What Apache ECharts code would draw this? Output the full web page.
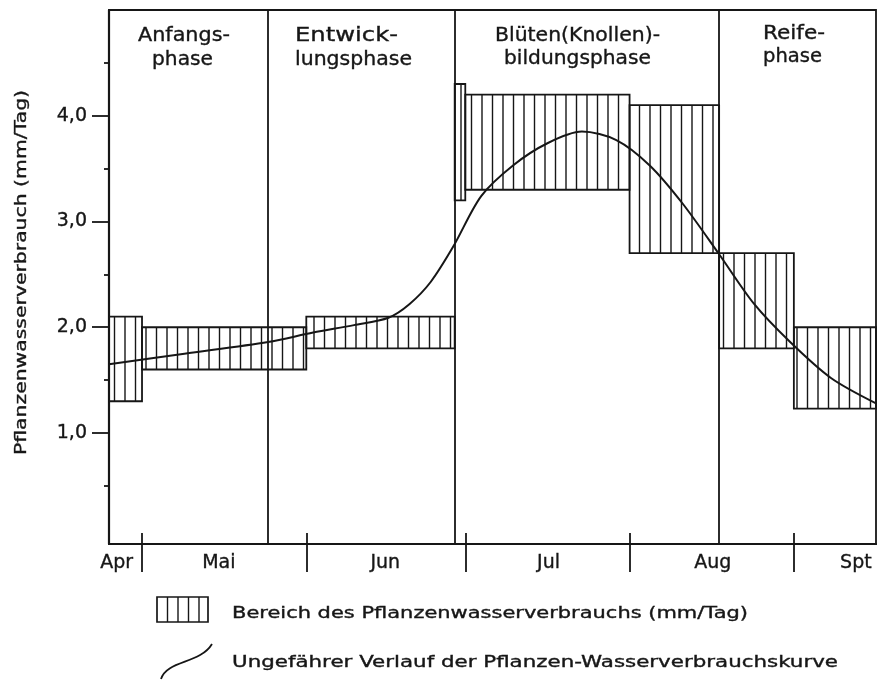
<!DOCTYPE html>
<html>
<head>
<meta charset="utf-8">
<script src="https://cdn.jsdelivr.net/npm/echarts@6/dist/echarts.min.js"></script>
<style>
html,body{margin:0;padding:0;background:#fff;}
#chart{width:878px;height:682px;}
</style>
</head>
<body>
<div id="chart"></div>
<script>
// ---------- DATA (x in days counted from 1 May) ----------
const monthBoundaries = [0, 31, 61, 92, 123];
const monthLabelPos   = [-4.8, 14.5, 45.9, 76.7, 107.7, 134.7];
const monthNames      = ['Apr', 'Mai', 'Jun', 'Jul', 'Aug', 'Spt'];
const yMajorTicks     = [1, 2, 3, 4];
const yMinorTicks     = [0.5, 1.5, 2.5, 3.5, 4.5];

const rangeStart = [-6.23, 0, 31, 59, 61, 92, 108.9, 123];
const rangeEnd   = [0, 31, 59, 61, 92, 108.9, 123, 138.5];
const rangeLow   = [1.3, 1.6, 1.8, 3.2, 3.3, 2.7, 1.8, 1.23];
const rangeHigh  = [2.1, 2.0, 2.1, 4.3, 4.2, 4.1, 2.7, 2.0];

const curveDays   = [-6.23, 8, 23.8, 32.3, 40.0, 46.5, 50.5, 54.5, 58.7, 64.0, 70.0, 76.5, 83.0, 89.5, 95.8, 102.0, 108.9, 115.5, 122.3, 130.0, 138.5];
const curveValues = [1.65, 1.75, 1.86, 1.95, 2.02, 2.09, 2.22, 2.43, 2.76, 3.24, 3.53, 3.74, 3.85, 3.77, 3.53, 3.17, 2.69, 2.22, 1.86, 1.52, 1.28];

const phaseBounds = [23.8, 59, 108.9];
const phaseNames  = [['Anfangs-', 'phase'], ['Entwick-', 'lungsphase'], ['Blüten(Knollen)-', 'bildungsphase'], ['Reife-', 'phase']];
const legendTexts = ['Bereich des Pflanzenwasserverbrauchs (mm/Tag)', 'Ungefährer Verlauf der Pflanzen-Wasserverbrauchskurve'];
const yAxisTitle  = 'Pflanzenwasserverbrauch (mm/Tag)';

const X_MIN = -6.23, X_MAX = 138.5, Y_MIN = -0.05, Y_MAX = 5.0;

// ---------- LAYOUT / STYLE ----------
const INK = '#161616';
const FONT = '"DejaVu Sans", sans-serif';
const mctx = document.createElement('canvas').getContext('2d');
function measure(text, size) { mctx.font = size + 'px ' + FONT; return mctx.measureText(text).width; }
function textStyle(t, fs, align) {
  return { text: t, fill: INK, stroke: INK, lineWidth: 0.35, font: fs + 'px ' + FONT, align: align, verticalAlign: 'middle' };
}

// phase label layout: [left x, target width, baseline] per line
const phaseLayout = [
  [[138, 92, 43], [152, 61, 67]],
  [[295, 103, 43], [295, 117, 67]],
  [[495, 165, 42.5], [504, 147, 65.5]],
  [[763, 62, 40.5], [763, 59, 64]]
];
const PHASE_FS = 19;
const graphics = [];
phaseNames.forEach((lines, i) => {
  lines.forEach((t, j) => {
    const [lx, w, base] = phaseLayout[i][j];
    graphics.push({
      type: 'text', x: lx, y: base - 0.346 * PHASE_FS,
      scaleX: w / measure(t, PHASE_FS), silent: true,
      style: textStyle(t, PHASE_FS, 'left')
    });
  });
});

// legend
const LEG_FS = 15;
const legendLayout = [[232, 516, 619], [232, 606, 668]];
legendTexts.forEach((t, i) => {
  const [lx, w, base] = legendLayout[i];
  graphics.push({
    type: 'text', x: lx, y: base - 0.346 * LEG_FS,
    scaleX: w / measure(t, LEG_FS), silent: true,
    style: textStyle(t, LEG_FS, 'left')
  });
});
// legend hatch icon
const iconChildren = [{ type: 'rect', shape: { x: 157, y: 597, width: 51, height: 25 }, style: { fill: 'none', stroke: INK, lineWidth: 1.7 } }];
for (let k = 1; k <= 4; k++) {
  const xx = 157 + k * 10.5;
  iconChildren.push({ type: 'line', shape: { x1: xx, y1: 597, x2: xx, y2: 622 }, style: { stroke: INK, lineWidth: 1.4 } });
}
graphics.push({ type: 'group', silent: true, children: iconChildren });
// legend curve icon
graphics.push({
  type: 'bezierCurve', silent: true,
  shape: { x1: 161, y1: 679, cpx1: 167, cpy1: 660, cpx2: 200, cpy2: 664, x2: 212, y2: 644 },
  style: { stroke: INK, lineWidth: 1.8, fill: 'none' }
});

// y axis title (rotated)
const YT_FS = 16;
graphics.push({
  type: 'text', x: 21.5, y: 272.5, rotation: Math.PI / 2,
  scaleX: 365 / measure(yAxisTitle, YT_FS), silent: true,
  style: textStyle(yAxisTitle, YT_FS, 'center')
});

const chart = echarts.init(document.getElementById('chart'), null, { renderer: 'canvas' });

const axisLabelBase = { color: INK, fontSize: 19, fontFamily: FONT, textBorderColor: INK, textBorderWidth: 0.35 };

const option = {
  backgroundColor: '#ffffff',
  animation: false,
  grid: { left: 109, right: 2, top: 10, bottom: 138, show: true, borderColor: INK, borderWidth: 1.8, backgroundColor: 'transparent' },
  xAxis: [
    {
      type: 'value', min: X_MIN, max: X_MAX, position: 'bottom',
      axisLine: { show: true, onZero: false, lineStyle: { color: INK, width: 2.2 } },
      axisTick: { show: true, inside: false, length: 28, customValues: monthBoundaries, lineStyle: { color: INK, width: 1.8 } },
      axisLabel: Object.assign({
        show: true, customValues: monthLabelPos, margin: 10, hideOverlap: false,
        formatter: function (v) {
          let best = 0, bd = Infinity;
          monthLabelPos.forEach((p, i) => { const d = Math.abs(p - v); if (d < bd) { bd = d; best = i; } });
          return monthNames[best];
        }
      }, axisLabelBase),
      splitLine: { show: false }
    },
    {
      type: 'value', min: X_MIN, max: X_MAX, position: 'bottom',
      axisLine: { show: false, onZero: false },
      axisTick: { show: true, inside: true, length: 11, customValues: monthBoundaries, lineStyle: { color: INK, width: 1.8 } },
      axisLabel: { show: false },
      splitLine: { show: false }
    }
  ],
  yAxis: [
    {
      type: 'value', min: Y_MIN, max: Y_MAX, position: 'left',
      axisLine: { show: true, onZero: false, lineStyle: { color: INK, width: 2.2 } },
      axisTick: { show: true, inside: false, length: 17, customValues: yMajorTicks, lineStyle: { color: INK, width: 1.8 } },
      axisLabel: Object.assign({
        show: true, customValues: yMajorTicks, margin: 22,
        formatter: v => v.toFixed(1).replace('.', ',')
      }, axisLabelBase),
      splitLine: { show: false }
    },
    {
      type: 'value', min: Y_MIN, max: Y_MAX, position: 'left',
      axisLine: { show: false, onZero: false },
      axisTick: { show: true, inside: false, length: 5, customValues: yMinorTicks, lineStyle: { color: INK, width: 1.8 } },
      axisLabel: { show: false },
      splitLine: { show: false }
    }
  ],
  series: [
    {
      name: 'Bereich', type: 'custom', coordinateSystem: 'cartesian2d', xAxisIndex: 0, yAxisIndex: 0,
      silent: true, clip: false,
      data: rangeStart.map((s, i) => [s, rangeEnd[i], rangeLow[i], rangeHigh[i]]),
      encode: { x: [0, 1], y: [2, 3] },
      renderItem: function (params, api) {
        const p0 = api.coord([api.value(0), api.value(3)]);
        const p1 = api.coord([api.value(1), api.value(2)]);
        const gx = params.coordSys.x;
        const step = 10.5;
        const children = [];
        let x = gx + 5.5;
        while (x < p0[0] + 1.5) x += step;
        for (; x < p1[0] - 1.5; x += step) {
          children.push({ type: 'line', shape: { x1: x, y1: p0[1], x2: x, y2: p1[1] }, style: { stroke: INK, lineWidth: 1.4 } });
        }
        children.push({
          type: 'rect',
          shape: { x: p0[0], y: p0[1], width: p1[0] - p0[0], height: p1[1] - p0[1] },
          style: { fill: 'none', stroke: INK, lineWidth: 1.8 }
        });
        return { type: 'group', children: children };
      },
      z: 2
    },
    {
      name: 'Verlauf', type: 'line', xAxisIndex: 0, yAxisIndex: 0,
      data: curveDays.map((d, i) => [d, curveValues[i]]),
      smooth: 0.3, showSymbol: false, symbol: 'none', silent: true,
      lineStyle: { color: INK, width: 2 },
      markLine: {
        silent: true, symbol: ['none', 'none'], label: { show: false },
        lineStyle: { type: 'solid', color: INK, width: 1.8 },
        data: phaseBounds.map(b => ({ xAxis: b }))
      },
      z: 3
    }
  ],
  graphic: graphics
};
chart.setOption(option);
</script>
</body>
</html>
